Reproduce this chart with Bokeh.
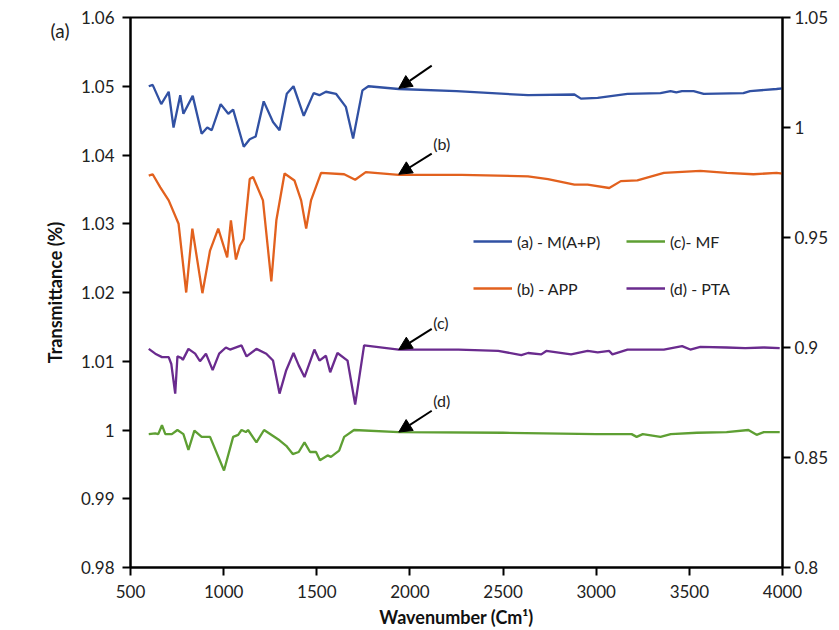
from bokeh.plotting import figure
from bokeh.models import (Range1d, LinearAxis, FixedTicker, Legend, LegendItem,
                          Arrow, NormalHead, Label)
from bokeh.embed import file_html
from bokeh.resources import INLINE

# ---------------- data ----------------
wn_a = [598, 619, 665, 705, 731, 767, 784, 834, 882, 912, 936, 984, 1025, 1051,
        1108, 1140, 1172, 1215, 1265, 1300, 1339, 1375, 1430, 1483, 1514, 1549,
        1603, 1656, 1695, 1745, 1777, 1940, 2250, 2634, 2883, 2918, 3008, 3168,
        3345, 3399, 3430, 3460, 3523, 3577, 3790, 3826, 3968, 4000]
tr_a = [1.0500, 1.0502, 1.0474, 1.0492, 1.0440, 1.0487, 1.0460, 1.0486, 1.0431,
        1.0440, 1.0436, 1.0474, 1.0460, 1.0466, 1.0412, 1.0423, 1.0427, 1.0478,
        1.0448, 1.0436, 1.0489, 1.0500, 1.0457, 1.0490, 1.0487, 1.0492, 1.0489,
        1.0470, 1.0424, 1.0494, 1.0500, 1.0496, 1.0493, 1.0487, 1.0488, 1.0482,
        1.0483, 1.0489, 1.0490, 1.0493, 1.0491, 1.0493, 1.0493, 1.0489, 1.0490,
        1.0493, 1.0496, 1.0497]

wn_b = [598, 619, 660, 705, 758, 799, 832, 886, 927, 971, 1019, 1039, 1066, 1087,
        1108, 1140, 1158, 1211, 1256, 1283, 1327, 1380, 1416, 1443, 1469, 1523,
        1647, 1706, 1763, 1940, 2278, 2634, 2741, 2883, 2954, 3070, 3132, 3221,
        3363, 3559, 3701, 3844, 3968, 4000]
tr_b = [1.0370, 1.0372, 1.0353, 1.0334, 1.0300, 1.0200, 1.0293, 1.0199, 1.0261,
        1.0293, 1.0251, 1.0305, 1.0248, 1.0268, 1.0278, 1.0365, 1.0368, 1.0334,
        1.0216, 1.0305, 1.0373, 1.0363, 1.0334, 1.0293, 1.0334, 1.0374, 1.0372,
        1.0364, 1.0375, 1.0371, 1.0371, 1.0369, 1.0365, 1.0357, 1.0357, 1.0352,
        1.0362, 1.0363, 1.0374, 1.0377, 1.0374, 1.0372, 1.0374, 1.0373]

wn_c = [598, 633, 649, 669, 687, 722, 752, 784, 811, 843, 882, 927, 1002, 1051,
        1078, 1096, 1119, 1131, 1176, 1217, 1300, 1336, 1371, 1403, 1434, 1464,
        1496, 1517, 1558, 1576, 1620, 1647, 1700, 1940, 2500, 3000, 3190, 3217,
        3250, 3345, 3400, 3541, 3700, 3817, 3861, 3900, 3985]
tr_c = [0.9994, 0.9995, 0.9994, 1.0007, 0.9994, 0.9994, 1.0000, 0.9994, 0.9971,
        0.9999, 0.9990, 0.9990, 0.9941, 0.9990, 0.9993, 1.0000, 0.9997, 1.0000,
        0.9982, 1.0000, 0.9985, 0.9977, 0.9965, 0.9968, 0.9982, 0.9968, 0.9968,
        0.9956, 0.9963, 0.9961, 0.9970, 0.9990, 1.0000, 0.9997, 0.9996, 0.9994,
        0.9994, 0.9990, 0.9994, 0.9990, 0.9994, 0.9996, 0.9997, 1.0000, 0.9993,
        0.9997, 0.9997]

wn_d = [598, 633, 669, 705, 719, 740, 752, 772, 781, 811, 847, 873, 905, 941, 976,
        1012, 1034, 1096, 1123, 1176, 1229, 1265, 1300, 1336, 1375, 1403, 1434,
        1487, 1514, 1549, 1572, 1611, 1665, 1706, 1754, 1940, 2261, 2474, 2598,
        2634, 2705, 2732, 2865, 2954, 3008, 3070, 3087, 3168, 3363, 3461, 3505,
        3559, 3700, 3800, 3900, 3985]
tr_d = [1.0118, 1.0111, 1.0106, 1.0106, 1.0096, 1.0053, 1.0107, 1.0105, 1.0102,
        1.0118, 1.0111, 1.0100, 1.0111, 1.0087, 1.0111, 1.0120, 1.0117, 1.0123,
        1.0107, 1.0118, 1.0111, 1.0101, 1.0053, 1.0087, 1.0112, 1.0094, 1.0077,
        1.0117, 1.0101, 1.0108, 1.0084, 1.0112, 1.0101, 1.0037, 1.0123, 1.0117,
        1.0117, 1.0115, 1.0109, 1.0112, 1.0110, 1.0115, 1.0110, 1.0115, 1.0113,
        1.0115, 1.0110, 1.0117, 1.0117, 1.0122, 1.0117, 1.0121, 1.0120, 1.0119,
        1.0120, 1.0119]

series_names = ["(a) - M(A+P)", "(b) - APP", "(c)- MF", "(d) - PTA"]
series_colors = ["#3151A3", "#E2611E", "#5E9F33", "#6A2B8E"]

x_ticks = [500, 1000, 1500, 2000, 2500, 3000, 3500, 4000]
y_ticks = [0.98, 0.99, 1.0, 1.01, 1.02, 1.03, 1.04, 1.05, 1.06]
y_tick_labels = ["0.98", "0.99", "1", "1.01", "1.02", "1.03", "1.04", "1.05", "1.06"]
y2_ticks = [0.8, 0.85, 0.9, 0.95, 1.0, 1.05]
y2_tick_labels = ["0.8", "0.85", "0.9", "0.95", "1", "1.05"]

panel_tag = "(a)"
panel_tag_y = 1.0581

# arrow annotations
arrow_tips_x = [1940, 1940, 1940, 1940]
arrow_tips_y = [1.0497, 1.0372, 1.0117, 0.9997]
arrow_tail_x = [2117, 2117, 2117, 2117]
arrow_tail_y = [1.0530, 1.0402, 1.0147, 1.0028]
arrow_labels = ["", "(b)", "(c)", "(d)"]
label_y = [None, 1.0417, 1.0156, 1.0043]

FONT = "Lato"

p = figure(width=831, height=630, output_backend="svg", toolbar_location=None,
           x_range=Range1d(500, 4000), y_range=Range1d(0.98, 1.06),
           min_border_left=130, min_border_right=45, min_border_top=17,
           min_border_bottom=63)
p.grid.visible = False
p.outline_line_color = "black"
p.outline_line_width = 2
p.background_fill_color = "white"
p.border_fill_color = "white"

p.extra_y_ranges = {"right": Range1d(0.8, 1.05)}
ax2 = LinearAxis(y_range_name="right")
p.add_layout(ax2, "right")

for ax in [p.xaxis[0], p.yaxis[0], ax2]:
    ax.axis_line_width = 2
    ax.axis_line_color = "black"
    ax.major_tick_line_width = 2
    ax.major_tick_line_color = "black"
    ax.major_tick_out = 8
    ax.major_tick_in = 0
    ax.minor_tick_line_color = None
    ax.major_label_text_font = FONT
    ax.major_label_text_font_size = "17px"
    ax.major_label_text_color = "#222222"
    ax.axis_label_text_font = FONT
    ax.axis_label_text_font_style = "bold"
    ax.axis_label_text_font_size = "18px"
    ax.axis_label_text_color = "#111111"

p.xaxis[0].ticker = FixedTicker(ticks=x_ticks)
p.xaxis[0].axis_label = "Wavenumber (Cm¹)"
p.xaxis[0].major_label_standoff = 9
p.xaxis[0].axis_label_standoff = 5

p.yaxis[0].ticker = FixedTicker(ticks=y_ticks)
p.yaxis[0].major_label_overrides = {t: l for t, l in zip(y_ticks, y_tick_labels)}
p.yaxis[0].axis_label = "Transmittance (%)"
p.yaxis[0].major_label_standoff = 8
p.yaxis[0].axis_label_standoff = 12

ax2.ticker = FixedTicker(ticks=y2_ticks)
ax2.major_label_overrides = {t: l for t, l in zip(y2_ticks, y2_tick_labels)}
ax2.major_label_standoff = 4

# panel tag "(a)" drawn as the only label of an invisible outer left axis
tag_axis = LinearAxis()
tag_axis.ticker = FixedTicker(ticks=[panel_tag_y])
tag_axis.major_label_overrides = {panel_tag_y: panel_tag}
tag_axis.axis_line_color = None
tag_axis.major_tick_line_color = None
tag_axis.minor_tick_line_color = None
tag_axis.major_tick_out = 0
tag_axis.major_tick_in = 0
tag_axis.major_label_standoff = -29
tag_axis.major_label_text_font = FONT
tag_axis.major_label_text_font_size = "19px"
tag_axis.major_label_text_color = "#222222"
p.add_layout(tag_axis, "left")

data = [(wn_a, tr_a), (wn_b, tr_b), (wn_c, tr_c), (wn_d, tr_d)]
renderers = []
for (xs, ys), c in zip(data, series_colors):
    r = p.line(xs, ys, line_color=c, line_width=2.3)
    renderers.append(r)

def make_legend(idx, loc):
    lg = Legend(items=[LegendItem(label=series_names[i], renderers=[renderers[i]]) for i in idx],
                location=loc, orientation="vertical")
    lg.glyph_width = 39
    lg.glyph_height = 20
    lg.label_height = 20
    lg.label_standoff = 5
    lg.spacing = 27
    lg.padding = 0
    lg.margin = 0
    lg.border_line_color = None
    lg.background_fill_alpha = 0
    lg.label_text_font = FONT
    lg.label_text_font_size = "16px"
    lg.label_text_color = "#222222"
    lg.label_text_baseline = "middle"
    return lg

p.add_layout(make_legend([0, 1], (343, 269)))
p.add_layout(make_legend([2, 3], (496, 269)))

for i in range(4):
    p.add_layout(Arrow(end=NormalHead(size=13, fill_color="black", line_color="black"),
                       x_start=arrow_tail_x[i], y_start=arrow_tail_y[i],
                       x_end=arrow_tips_x[i], y_end=arrow_tips_y[i],
                       line_color="black", line_width=2))
    if arrow_labels[i]:
        p.add_layout(Label(x=2125, y=label_y[i], text=arrow_labels[i],
                           text_font=FONT, text_font_size="16px",
                           text_baseline="middle", text_color="#222222"))

open("out.html", "w").write(file_html(p, INLINE))
